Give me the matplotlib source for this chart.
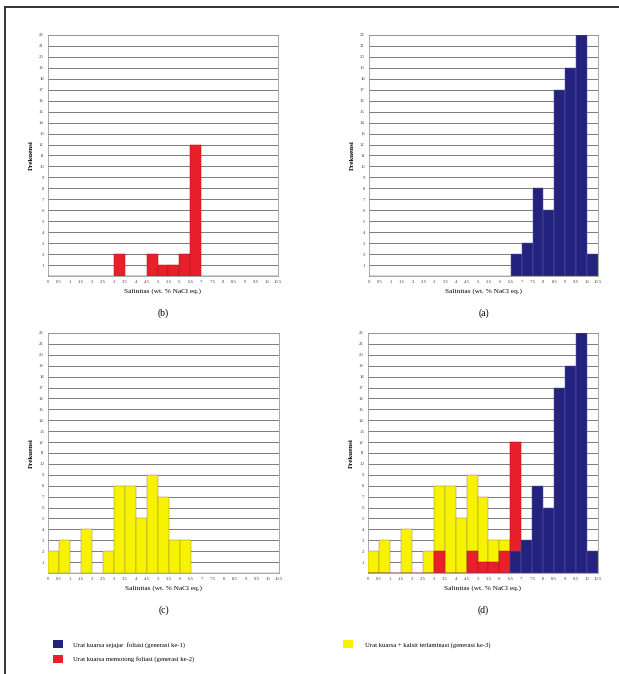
import matplotlib
matplotlib.use("Agg")
import matplotlib.pyplot as plt
from matplotlib.lines import Line2D
from matplotlib.patches import Patch
import numpy as np

# bins of 0.5 wt.% from 0 to 10.5
bin_edges = np.arange(0, 10.51, 0.5)
tick_labels = ["0", "0.5", "1", "1.5", "2", "2.5", "3", "3.5", "4", "4.5", "5",
               "5.5", "6", "6.5", "7", "7.5", "8", "8.5", "9", "9.5", "10", "10.5"]

# counts per bin (21 bins)
gen1 = [0, 0, 0, 0, 0, 0, 0, 0, 0, 0, 0, 0, 0, 2, 3, 8, 6, 17, 19, 22, 2]
gen2 = [0, 0, 0, 0, 0, 0, 2, 0, 0, 2, 1, 1, 2, 12, 0, 0, 0, 0, 0, 0, 0]
gen3 = [2, 3, 0, 4, 0, 2, 8, 8, 5, 9, 7, 3, 3, 0, 0, 0, 0, 0, 0, 0, 0]

c_blue = "#23237f"
c_red = "#e8202b"
c_yellow = "#f7f200"

legend_labels = ["Urat kuarsa sejajar  foliasi (generasi ke-1)",
                 "Urat kuarsa memotong foliasi (generasi ke-2)",
                 "Urat kuarsa + kalsit terlaminasi (generasi ke-3)"]

plt.rcParams['font.family'] = ['Liberation Serif', 'DejaVu Serif']

W, H = 619, 674
fig = plt.figure(figsize=(W / 100, H / 100), dpi=100)


def px_axes(left, right, top, bottom):
    return fig.add_axes([left / W, 1 - bottom / H, (right - left) / W, (bottom - top) / H])


def style(ax, label):
    ax.set_xlim(0, 10.5)
    ax.set_ylim(0, 22)
    ax.set_yticks(range(1, 23))
    ax.set_yticklabels([str(i) for i in range(1, 23)], fontsize=3.4, color="#444444")
    ax.set_xticks(bin_edges)
    ax.set_xticklabels(tick_labels, fontsize=3.4, color="#444444")
    ax.tick_params(length=0, pad=3)
    ax.grid(axis="y", color="#7a7a7a", linewidth=0.7)
    ax.set_axisbelow(True)
    for s in ax.spines.values():
        s.set_color("#9a9a9a")
        s.set_linewidth(0.6)
    ax.set_ylabel("Frekuensi", fontsize=5, fontweight="bold", labelpad=4)
    ax.set_xlabel("Salinitas (wt. % NaCl eq.)", fontsize=5.2, labelpad=3)
    ax.text(0.5, -0.153, label, transform=ax.transAxes, ha="center", va="center",
            fontsize=7)


def bars(ax, counts, color, edge, z):
    ax.bar(bin_edges[:-1], counts, width=0.5, align="edge", color=color,
           edgecolor=edge, linewidth=0.35, zorder=z)


ax_b = px_axes(48, 278, 35, 276)
bars(ax_b, gen2, c_red, "#b01010", 3)
style(ax_b, "(b)")

ax_a = px_axes(369, 598, 35, 276)
bars(ax_a, gen1, c_blue, "#5a5aa0", 3)
style(ax_a, "(a)")

ax_c = px_axes(48, 279, 333, 573)
bars(ax_c, gen3, c_yellow, "#9a9040", 3)
style(ax_c, "(c)")

ax_d = px_axes(368, 598, 333, 573)
bars(ax_d, gen3, c_yellow, "#9a9040", 3)
bars(ax_d, gen2, c_red, "#b01010", 4)
bars(ax_d, gen1, c_blue, "#5a5aa0", 5)
style(ax_d, "(d)")

# legend
h_blue = Patch(facecolor=c_blue, edgecolor="none")
h_red = Patch(facecolor=c_red, edgecolor="none")
h_yel = Patch(facecolor=c_yellow, edgecolor="none")
fig.legend([h_blue, h_red], legend_labels[:2], loc="upper left",
           bbox_to_anchor=(47 / W, 1 - 634 / H), frameon=False, fontsize=4.8,
           handlelength=1.5, handleheight=1.5, labelspacing=1.0, handletextpad=1.5)
fig.legend([h_yel], legend_labels[2:], loc="upper left",
           bbox_to_anchor=(337 / W, 1 - 634 / H), frameon=False, fontsize=4.8,
           handlelength=1.5, handleheight=1.5, handletextpad=1.8)

# outer frame (left and top edges)
fig.add_artist(Line2D([5 / W, 5 / W], [0, 1 - 7 / H], transform=fig.transFigure,
                      color="#333333", linewidth=1.4))
fig.add_artist(Line2D([5 / W, 1], [1 - 7 / H, 1 - 7 / H], transform=fig.transFigure,
                      color="#333333", linewidth=1.4))

fig.savefig("out.png", dpi=100)
